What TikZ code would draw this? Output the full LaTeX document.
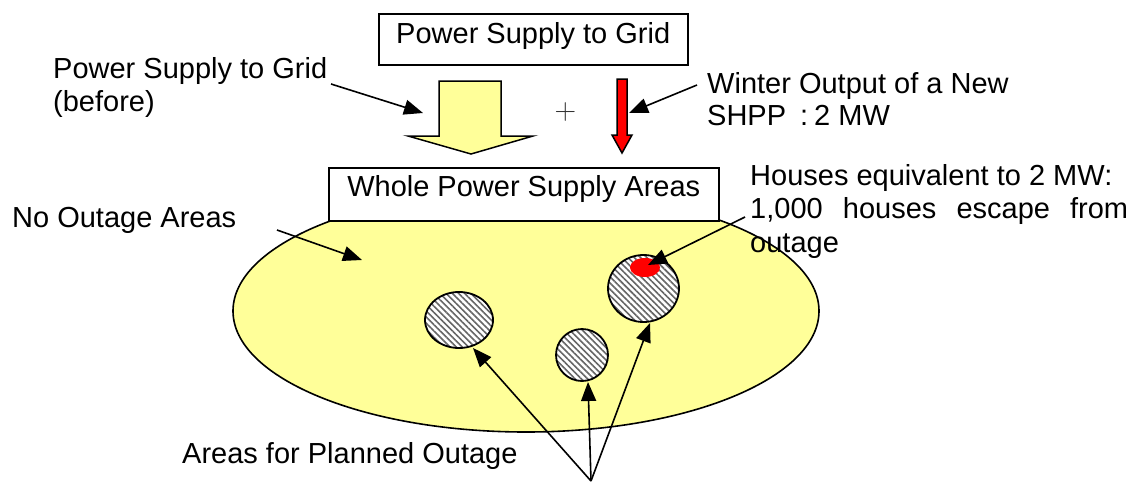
\documentclass[tikz,border=0pt]{standalone}
\usepackage{fontspec}
\newfontfamily\arial{Liberation Sans}
\usetikzlibrary{arrows.meta,patterns.meta}
\definecolor{lightyel}{HTML}{FFFF99}
\begin{document}
\begin{tikzpicture}[x=1pt,y=-1pt,
  txt/.style={font=\arial\fontsize{29pt}{33pt}\selectfont, inner sep=0pt},
  box/.style={draw, line width=1.5pt, fill=white},
  conn/.style={line width=1.6pt, -{Triangle[length=19pt,width=15pt]}},
  hatch/.style={draw, line width=1.8pt, preaction={fill=white},
    pattern={Lines[angle=-45,distance=4.4pt,line width=1.6pt]}, pattern color=black!60},
  blockarrow/.style={draw, line width=1.5pt, line join=miter}
]
\useasboundingbox (0,0) rectangle (1138,482);

% main area
\draw[fill=lightyel, line width=1.6pt] (526,311) ellipse [x radius=293pt, y radius=121pt];

% boxes
\node[box, txt, text height=30pt, text depth=21pt, minimum width=309pt, anchor=north west] (top) at (378,13) {Power Supply to Grid};
\node[box, txt, text height=29pt, text depth=24pt, minimum width=390pt, anchor=north west] (whole) at (328,167) {Whole Power Supply Areas};

% block arrows
\draw[blockarrow, fill=lightyel] (439,81) -- (501,81) -- (501,136) -- (533,136) -- (471,154) -- (408,136) -- (439,136) -- cycle;
\draw[blockarrow, fill=red] (617,79) -- (627,79) -- (627,135) -- (632,135) -- (622,153) -- (612,135) -- (617,135) -- cycle;
\node[font=\fontsize{30pt}{30pt}\selectfont, text=black!80, inner sep=0pt] (plus) at (565.5,112) {+};

% outage areas
\path[hatch] (459,320) ellipse [x radius=34pt, y radius=28pt];
\path[hatch] (582,355) ellipse [x radius=26pt, y radius=26pt];
\path[hatch] (643.5,288.5) ellipse [x radius=35.5pt, y radius=33.5pt];
\fill[red] (645,267.5) ellipse [x radius=15pt, y radius=9.5pt];

% texts
\node[txt, anchor=base west] (bef1) at (53,78) {Power Supply to Grid};
\node[txt, anchor=base west] (bef2) at (53,111) {(before)};
\node[txt, anchor=base west] (win1) at (707,93) {Winter Output of a New};
\node[txt, anchor=base west] (win2) at (707,125) {SHPP\hspace{14pt}:\hspace{6pt}2 MW};
\node[txt, anchor=base west] (hou1) at (750,185) {Houses equivalent to 2 MW:};
\node[txt, anchor=base west] (hou2) at (750,218) {\makebox[378pt][s]{1,000\hfill houses\hfill escape\hfill from}};
\node[txt, anchor=base west] (hou3) at (750,252) {outage};
\node[txt, anchor=base west] (noout) at (12,227) {No Outage Areas};
\node[txt, anchor=base west] (planned) at (182,463) {Areas for Planned Outage};

% connectors
\coordinate (befS) at (331,84);
\coordinate (befE) at (423,113);
\coordinate (winS) at (697,85);
\coordinate (winE) at (629,113);
\coordinate (houS) at (745,217);
\coordinate (houE) at (648,265);
\coordinate (noS) at (277,230);
\coordinate (noE) at (362,260);
\coordinate (apex) at (591,481);
\coordinate (c1) at (473,348);
\coordinate (c2) at (588,382);
\coordinate (c3) at (650,323);
\draw[conn] (befS) -- (befE);
\draw[conn] (winS) -- (winE);
\draw[conn] (houS) -- (houE);
\draw[conn] (noS) -- (noE);
\draw[conn] (apex) -- (c1);
\draw[conn] (apex) -- (c2);
\draw[conn] (apex) -- (c3);
\end{tikzpicture}
\end{document}
